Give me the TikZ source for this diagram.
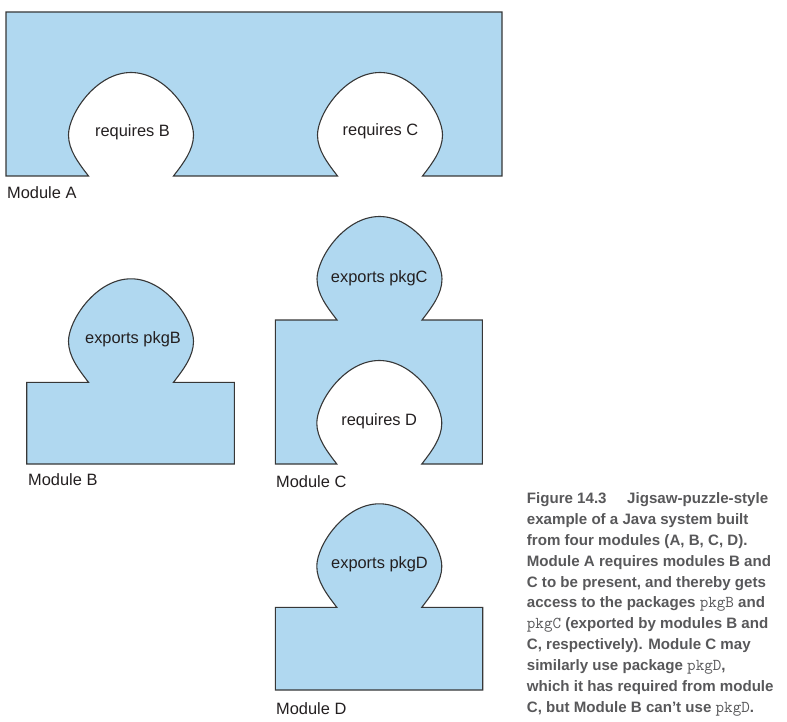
\documentclass[tikz,border=0pt]{standalone}
\usepackage{fontspec}
\setmainfont{Liberation Sans}
\definecolor{modfill}{RGB}{176,216,240}
\definecolor{modline}{RGB}{55,55,55}
\definecolor{captext}{RGB}{88,88,90}
\definecolor{labtext}{RGB}{35,31,32}
\tikzset{
  knob/.style n args={3}{insert path={
    -- ({#1-(#3)*42.5},#2)
    .. controls ({#1-(#3)*52.5},{#2-13}) and ({#1-(#3)*62.5},{#2-26}) .. ({#1-(#3)*62.5},{#2-41})
    .. controls ({#1-(#3)*62.5},{#2-62}) and ({#1-(#3)*35},{#2-103.5}) .. (#1,{#2-103.5})
    .. controls ({#1+(#3)*35},{#2-103.5}) and ({#1+(#3)*62.5},{#2-62}) .. ({#1+(#3)*62.5},{#2-41})
    .. controls ({#1+(#3)*62.5},{#2-26}) and ({#1+(#3)*52.5},{#2-13}) .. ({#1+(#3)*42.5},#2)}},
  module/.style={fill=modfill, draw=modline, line width=1.1pt, line join=miter},
  modlabel/.style={anchor=base west, inner sep=0pt, text=labtext, font=\fontsize{16.4}{19}\selectfont},
  knoblabel/.style={anchor=base, inner sep=0pt, text=labtext, font=\fontsize{16.4}{19}\selectfont},
  capline/.style={anchor=base west, inner sep=0pt, text=captext, font=\fontsize{15.1}{18}\selectfont\bfseries}
}
\newcommand{\pk}[1]{{\fontsize{16.6}{18}\ttfamily\mdseries #1}}
\begin{document}
\begin{tikzpicture}[x=1pt, y=-1pt]
\useasboundingbox (0,0) rectangle (787,722);
% Module A
\draw[module] (6,12) -- (6,176) [knob={131}{176}{1}] [knob={380}{176}{1}] -- (502,176) -- (502,12) -- cycle;
% Module B
\draw[module] (26.7,464) -- (26.7,382.3) [knob={131}{382.3}{1}] -- (234.3,382.3) -- (234.3,464) -- cycle;
% Module C
\draw[module] (275.3,464) -- (275.3,320) [knob={379.5}{320}{1}] -- (482.3,320) -- (482.3,464) [knob={379.3}{464}{-1}] -- cycle;
% Module D
\draw[module] (275.3,690) -- (275.3,607.3) [knob={379.3}{607.3}{1}] -- (482.7,607.3) -- (482.7,690) -- cycle;

\node[knoblabel] (reqB) at (132.5,136.5) {requires B};
\node[knoblabel] (reqC) at (380.5,136) {requires C};
\node[knoblabel] (expB) at (133,343) {exports pkgB};
\node[knoblabel] (expC) at (379.3,282.5) {exports pkgC};
\node[knoblabel] (reqD) at (379.2,425.8) {requires D};
\node[knoblabel] (expD) at (379.5,568.5) {exports pkgD};

\node[modlabel] (labA) at (7,198.8) {Module A};
\node[modlabel] (labB) at (28,485.6) {Module B};
\node[modlabel] (labC) at (276,487.5) {Module C};
\node[modlabel] (labD) at (276,714) {Module D};

\node[capline] (cap1a) at (526.7,503.6) {Figure 14.3};
\node[capline] (cap1b) at (627,503.6) {Jigsaw-puzzle-style};
\node[capline] (cap2) at (526.7,524.4) {example of a Java system built};
\node[capline] (cap3) at (526.7,545.3) {from four modules (A, B, C, D).};
\node[capline] (cap4) at (526.7,566.1) {Module A requires modules B and};
\node[capline] (cap5) at (526.7,587.0) {C to be present, and thereby gets};
\node[capline] (cap6) at (526.7,607.8) {access to the packages \pk{pkgB} and};
\node[capline] (cap7) at (526.7,628.6) {\pk{pkgC} (exported by modules B and};
\node[capline] (cap8) at (526.7,649.5) {C, respectively). Module C may};
\node[capline] (cap9) at (526.7,670.3) {similarly use package \pk{pkgD},};
\node[capline] (cap10) at (526.7,691.2) {which it has required from module};
\node[capline] (cap11) at (526.7,712.0) {C, but Module B can’t use \pk{pkgD}.};
\end{tikzpicture}
\end{document}
